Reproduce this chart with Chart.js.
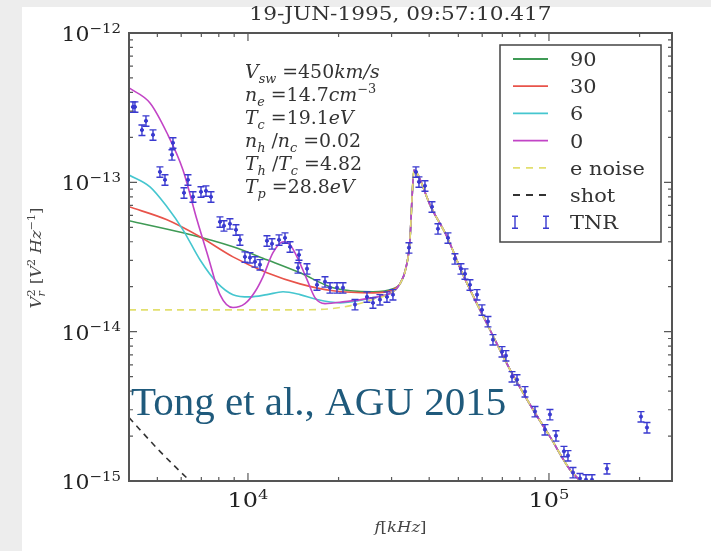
<!DOCTYPE html>
<html>
<head>
<meta charset="utf-8">
<script src="https://cdn.jsdelivr.net/npm/chart.js@4.4.0/dist/chart.umd.min.js"></script>
<style>
html,body{margin:0;padding:0;background:#fff}
canvas{display:block}
</style>
</head>
<body>
<canvas id="c" width="711" height="551"></canvas>
<script>
// model curves, f in Hz, V^2 in V^2/Hz
const green90F = [4025, 6083, 8917, 11564, 14891, 19165, 26018, 30318]
const green90V = [5.53e-14, 4.59e-14, 3.70e-14, 3.03e-14, 2.48e-14, 1.97e-14, 1.85e-14, 1.94e-14]

const red30F = [4025, 5382, 6927, 8917, 11564, 14891, 19165, 26018, 30318]
const red30V = [6.86e-14, 5.61e-14, 4.32e-14, 3.17e-14, 2.48e-14, 2.09e-14, 1.88e-14, 1.82e-14, 1.91e-14]

const cyan6F = [4025, 4726, 5382, 6083, 6927, 7889, 8917, 10154, 11564, 13075, 14891, 16954, 20217, 26018, 30318]
const cyan6V = [1.12e-13, 9.33e-14, 6.86e-14, 4.81e-14, 3.03e-14, 2.13e-14, 1.77e-14, 1.71e-14, 1.77e-14, 1.85e-14, 1.77e-14, 1.64e-14, 1.56e-14, 1.69e-14, 1.85e-14]

const purple0F = [4025, 4726, 5382, 6083, 6770, 7307, 8073, 8917, 9772, 10550, 11215, 12110, 13075, 13795, 14554, 15710, 16697, 18026, 21006, 26018, 30318]
const purple0V = [4.29e-13, 3.40e-13, 2.14e-13, 1.21e-13, 5.61e-14, 3.38e-14, 1.77e-14, 1.45e-14, 1.54e-14, 1.85e-14, 2.33e-14, 3.38e-14, 4.00e-14, 3.82e-14, 3.17e-14, 2.23e-14, 1.69e-14, 1.54e-14, 1.59e-14, 1.69e-14, 1.85e-14]

const eNoiseF = [4025, 14891, 20217, 26018, 30318]
const eNoiseV = [1.40e-14, 1.40e-14, 1.45e-14, 1.64e-14, 1.85e-14]

// plasma line peak and tail, same for every model curve
const peakF = [31989, 33494, 34528, 35062, 35601, 36710, 40240, 45827, 51794, 63680, 74220, 88480, 100763, 117445, 126781, 136851]
const peakV = [2.09e-14, 2.68e-14, 4.12e-14, 7.64e-14, 1.21e-13, 1.12e-13, 7.07e-14, 4.32e-14, 2.41e-14, 1.03e-14, 5.57e-15, 3.01e-15, 1.98e-15, 1.19e-15, 1.0e-15, 8.1e-16]

const shotF = [4025, 5100, 6417, 6927]
const shotV = [2.66e-15, 1.58e-15, 1.0e-15, 8.64e-16]

// TNR measurements
const tnrF = [4148, 4212, 4583, 4444, 4836, 5634, 5592, 5100, 5300, 6320, 6130, 6566, 6981, 7253, 7536, 8073, 8322, 8713, 9124, 9406, 9772, 10154, 10550, 10962, 11564, 12017, 12682, 13276, 13795, 14775, 14665, 15710, 16954, 18026, 18729, 19759, 20687, 22679, 24853, 26018, 27447, 28958, 30318, 34266, 36150, 36990, 38726, 40862, 42780, 46179, 48715, 51006, 52592, 54641, 57656, 59903, 62708, 65163, 69819, 71950, 75374, 78305, 83241, 89850, 100763, 96985, 105490, 112160, 115640, 120160, 126781, 132740, 138970, 155850, 202160, 211640]
const tnrV = [3.20e-13, 3.20e-13, 2.58e-13, 2.24e-13, 2.08e-13, 1.84e-13, 1.53e-13, 1.175e-13, 1.04e-13, 1.04e-13, 8.51e-14, 8.00e-14, 8.64e-14, 8.77e-14, 8.00e-14, 5.44e-14, 5.12e-14, 5.28e-14, 4.81e-14, 4.12e-14, 3.17e-14, 3.13e-14, 2.94e-14, 2.81e-14, 4.06e-14, 3.88e-14, 4.12e-14, 4.25e-14, 3.70e-14, 3.27e-14, 2.68e-14, 2.64e-14, 2.06e-14, 2.16e-14, 1.97e-14, 1.97e-14, 1.97e-14, 1.52e-14, 1.71e-14, 1.56e-14, 1.64e-14, 1.71e-14, 1.77e-14, 3.65e-14, 1.175e-13, 1.008e-13, 9.48e-14, 6.86e-14, 4.89e-14, 4.25e-14, 3.08e-14, 2.64e-14, 2.44e-14, 2.06e-14, 1.77e-14, 1.40e-14, 1.17e-14, 8.84e-15, 7.35e-15, 6.91e-15, 5.00e-15, 4.77e-15, 3.97e-15, 2.92e-15, 2.79e-15, 2.21e-15, 2.01e-15, 1.58e-15, 1.48e-15, 1.14e-15, 1.04e-15, 1.02e-15, 1.02e-15, 1.21e-15, 2.70e-15, 2.28e-15]
const tnrErr = 0.08

const yDecades = [-15, -14, -13, -12]
const xDecades = [4, 5]
const legendLabels = ['90', '30', '6', '0', 'e noise', 'shot', 'TNR']

const SERIF = '"DejaVu Serif", "Liberation Serif", serif'

function pts(f, v) {
  return f.map((x, i) => ({x: x, y: v[i]}))
}
function withPeak(f, v) {
  return pts(f.concat(peakF), v.concat(peakV))
}

function curve(label, data, color, order, dash) {
  return {
    label: label,
    data: data,
    borderColor: color,
    borderWidth: 1.6,
    borderDash: dash || [],
    pointRadius: 0,
    fill: false,
    cubicInterpolationMode: 'monotone',
    order: order
  }
}

const colors = ['#3f9a55', '#e8534a', '#45c6cf', '#c244c6', '#e2df6e', '#333333', '#3a3ad0']

const datasets = [
  curve('90', withPeak(green90F, green90V), colors[0], 7),
  curve('30', withPeak(red30F, red30V), colors[1], 6),
  curve('6', withPeak(cyan6F, cyan6V), colors[2], 5),
  curve('0', withPeak(purple0F, purple0V), colors[3], 4),
  curve('e noise', withPeak(eNoiseF, eNoiseV), colors[4], 3, [7, 5]),
  curve('shot', pts(shotF, shotV), colors[5], 2, [6, 5]),
  {
    label: 'TNR',
    data: pts(tnrF, tnrV),
    showLine: false,
    pointRadius: 1.6,
    pointBackgroundColor: colors[6],
    pointBorderColor: colors[6],
    order: 1
  }
]

// text with sub / superscripts, stretched a bit in x like the source figure
function rich(ctx, segs, x, y, size, align, color, sx) {
  ctx.save()
  ctx.translate(x, y)
  ctx.scale(sx || 1.1, 1)
  ctx.fillStyle = color || '#333'
  ctx.textBaseline = 'alphabetic'
  ctx.textAlign = 'left'
  let fontOf = s => {
    let sz = size
    let it = s.k.indexOf('i') >= 0 ? 'italic ' : ''
    if (s.k.indexOf('sub') >= 0 || s.k.indexOf('sup') >= 0) sz = size * 0.68
    return it + sz + 'px ' + SERIF
  }
  let total = 0
  let widths = segs.map(s => {
    ctx.font = fontOf(s)
    let w = ctx.measureText(s.t).width
    if (!s.noadv) total += w
    return w
  })
  let cx = align == 'center' ? -total / 2 : align == 'right' ? -total : 0
  segs.forEach((s, i) => {
    ctx.font = fontOf(s)
    let dy = 0
    if (s.k.indexOf('sub') >= 0) dy = size * 0.28
    if (s.k.indexOf('sup') >= 0) dy = -size * 0.42
    ctx.fillText(s.t, cx, dy)
    if (!s.noadv) cx += widths[i]
  })
  ctx.restore()
}
const S = (t, k, noadv) => ({t: t, k: k || 'r', noadv: noadv})

const bgPlugin = {
  id: 'bg',
  beforeDraw(chart) {
    let ctx = chart.ctx
    ctx.save()
    ctx.fillStyle = '#ffffff'
    ctx.fillRect(0, 0, chart.width, chart.height)
    ctx.fillStyle = '#ededed'
    ctx.fillRect(0, 0, chart.width, 7)
    ctx.fillRect(0, 0, 22, chart.height)
    ctx.restore()
  }
}

const errPlugin = {
  id: 'errbars',
  afterDatasetsDraw(chart) {
    let ctx = chart.ctx, xs = chart.scales.x, ys = chart.scales.y, a = chart.chartArea
    ctx.save()
    ctx.beginPath()
    ctx.rect(a.left, a.top, a.right - a.left, a.bottom - a.top)
    ctx.clip()
    ctx.strokeStyle = colors[6]
    ctx.lineWidth = 1.4
    tnrF.forEach((f, i) => {
      let px = xs.getPixelForValue(f)
      let t = ys.getPixelForValue(tnrV[i] * (1 + tnrErr))
      let b = ys.getPixelForValue(tnrV[i] * (1 - tnrErr))
      ctx.beginPath()
      ctx.moveTo(px, t); ctx.lineTo(px, b)
      ctx.moveTo(px - 3.5, t); ctx.lineTo(px + 3.5, t)
      ctx.moveTo(px - 3.5, b); ctx.lineTo(px + 3.5, b)
      ctx.stroke()
    })
    ctx.restore()
  }
}

const framePlugin = {
  id: 'frame',
  afterDraw(chart) {
    let ctx = chart.ctx, xs = chart.scales.x, ys = chart.scales.y, a = chart.chartArea
    ctx.save()
    ctx.strokeStyle = '#5a5a5a'
    ctx.lineWidth = 1.2
    // ticks, all pointing inward
    yDecades.forEach(e => {
      for (let m = 1; m < 10; m++) {
        let v = m * Math.pow(10, e)
        if (v > 1e-12 * 1.001) break
        let py = ys.getPixelForValue(v)
        let len = m == 1 ? 8 : 4
        ctx.beginPath()
        ctx.moveTo(a.left, py); ctx.lineTo(a.left + len, py)
        ctx.moveTo(a.right, py); ctx.lineTo(a.right - len, py)
        ctx.stroke()
      }
    })
    ;[3, 4, 5].forEach(e => {
      for (let m = 1; m < 10; m++) {
        let v = m * Math.pow(10, e)
        if (v < xs.min || v > xs.max) continue
        let px = xs.getPixelForValue(v)
        let len = m == 1 ? 8 : 4
        ctx.beginPath()
        ctx.moveTo(px, a.bottom); ctx.lineTo(px, a.bottom - len)
        ctx.moveTo(px, a.top); ctx.lineTo(px, a.top + len)
        ctx.stroke()
      }
    })
    ctx.lineWidth = 2
    ctx.strokeStyle = '#555'
    ctx.strokeRect(a.left, a.top, a.right - a.left, a.bottom - a.top)

    // tick labels
    yDecades.forEach(e => {
      let py = ys.getPixelForValue(Math.pow(10, e))
      rich(ctx, [S('10'), S('\u2212' + Math.abs(e), 'sup')], 121, py + 8, 20, 'right', '#222')
    })
    xDecades.forEach(e => {
      let px = xs.getPixelForValue(Math.pow(10, e))
      rich(ctx, [S('10'), S(String(e), 'sup')], px, 507, 20, 'center', '#222', 1.2)
    })

    // title and axis titles
    rich(ctx, [S('19-JUN-1995, 09:57:10.417')], (a.left + a.right) / 2, 20, 18.5, 'center', '#333', 1.17)
    rich(ctx, [S('f', 'i'), S('[', 'r'), S('kHz', 'i'), S(']', 'r')], (a.left + a.right) / 2, 532, 15, 'center', '#444')
    ctx.save()
    ctx.translate(41, 258)
    ctx.rotate(-Math.PI / 2)
    rich(ctx, [S('V', 'i'), S('r', 'isub', true), S('2', 'sup'), S(' [', 'r'), S('V', 'i'), S('2', 'sup'), S(' Hz', 'i'), S('\u22121', 'sup'), S(']', 'r')], 0, 0, 15, 'center', '#444')
    ctx.restore()

    // fit parameters
    let params = [
      [S('V', 'i'), S('sw', 'isub'), S(' =450'), S('km/s', 'i')],
      [S('n', 'i'), S('e', 'isub'), S(' =14.7'), S('cm', 'i'), S('\u22123', 'sup')],
      [S('T', 'i'), S('c', 'isub'), S(' =19.1'), S('eV', 'i')],
      [S('n', 'i'), S('h', 'isub'), S(' /'), S('n', 'i'), S('c', 'isub'), S(' =0.02')],
      [S('T', 'i'), S('h', 'isub'), S(' /'), S('T', 'i'), S('c', 'isub'), S(' =4.82')],
      [S('T', 'i'), S('p', 'isub'), S(' =28.8'), S('eV', 'i')]
    ]
    params.forEach((p, i) => rich(ctx, p, 245, 78 + i * 23, 18, 'left', '#333', 1.05))

    // legend
    ctx.fillStyle = '#fff'
    ctx.fillRect(500, 45, 161, 197)
    ctx.strokeStyle = '#444'
    ctx.lineWidth = 1.5
    ctx.strokeRect(500, 45, 161, 197)
    legendLabels.forEach((lab, i) => {
      let ly = 59 + i * 27.2
      ctx.strokeStyle = colors[i]
      ctx.lineWidth = i == 6 ? 1.4 : 1.8
      if (i < 6) {
        ctx.setLineDash(i >= 4 ? [7, 6] : [])
        ctx.beginPath()
        ctx.moveTo(513, ly); ctx.lineTo(548, ly)
        ctx.stroke()
        ctx.setLineDash([])
      } else {
        ;[515, 546].forEach(px => {
          ctx.beginPath()
          ctx.moveTo(px, ly - 6); ctx.lineTo(px, ly + 6)
          ctx.moveTo(px - 3, ly - 6); ctx.lineTo(px + 3, ly - 6)
          ctx.moveTo(px - 3, ly + 6); ctx.lineTo(px + 3, ly + 6)
          ctx.stroke()
        })
      }
      rich(ctx, [S(lab)], 570, ly + 7, 19, 'left', '#333')
    })

    // slide caption over the figure
    ctx.fillStyle = '#1f5a7c'
    ctx.font = '41px "Liberation Serif", serif'
    ctx.textAlign = 'left'
    ctx.fillText('Tong et al., AGU 2015', 131, 415)
    ctx.restore()
  }
}

new Chart(document.getElementById('c'), {
  type: 'line',
  data: {datasets: datasets},
  options: {
    responsive: false,
    animation: false,
    layout: {padding: {left: 129, right: 39, top: 33, bottom: 70}},
    scales: {
      x: {type: 'logarithmic', min: 4025, max: 256300, display: false},
      y: {type: 'logarithmic', min: 1e-15, max: 1e-12, display: false}
    },
    plugins: {legend: {display: false}, tooltip: {enabled: false}}
  },
  plugins: [bgPlugin, errPlugin, framePlugin]
})
</script>
</body>
</html>
